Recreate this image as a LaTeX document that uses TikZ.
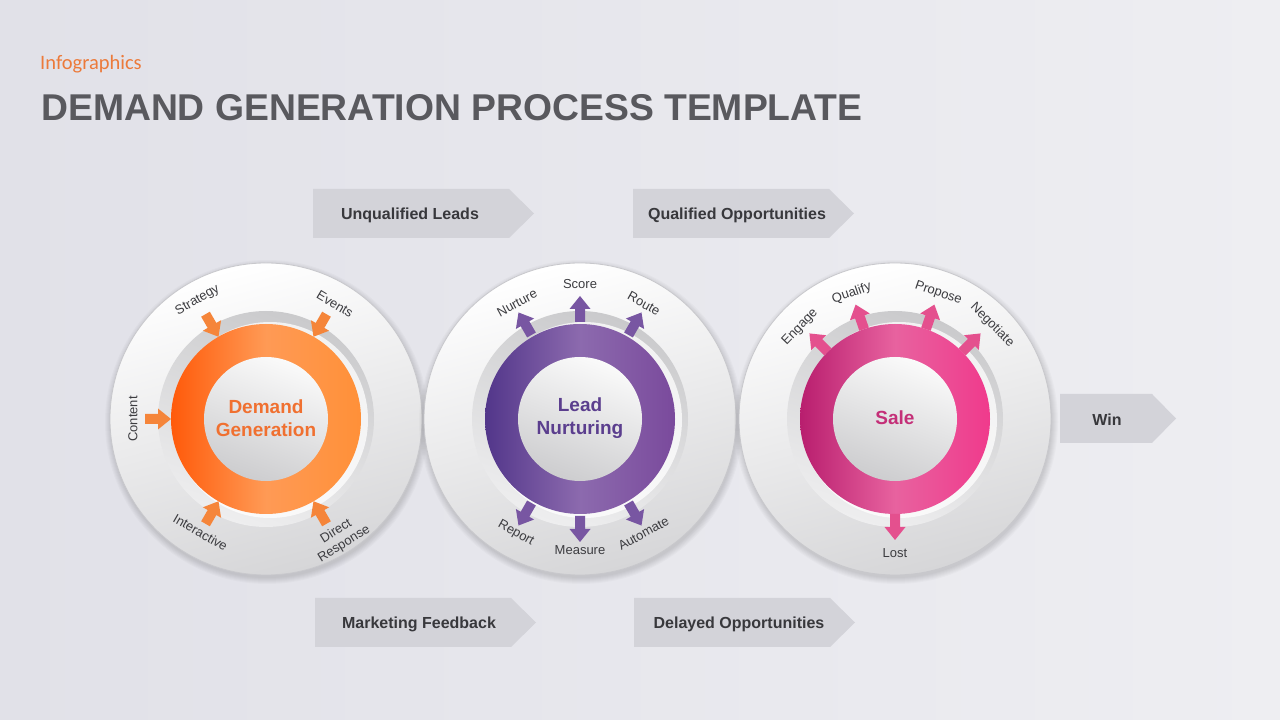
\documentclass[tikz,border=0pt]{standalone}
\usepackage{fontspec}
\setmainfont{Liberation Sans}
\newfontfamily\carlitofont{Carlito}
\usetikzlibrary{calc}
\definecolor{bgA}{HTML}{E1E1E8}
\definecolor{bgB}{HTML}{EEEEF2}
\definecolor{titlec}{HTML}{59595E}
\definecolor{infoc}{HTML}{EC7A3A}
\definecolor{txt}{HTML}{3C3C40}
\definecolor{bantxt}{HTML}{38383C}
\definecolor{banc}{HTML}{D3D3D9}
\definecolor{discB}{HTML}{D6D6D8}
\definecolor{discE}{HTML}{C8C8CC}
\definecolor{bandT}{HTML}{CACACC}
\definecolor{bandB}{HTML}{EEEEEF}
\definecolor{inT}{HTML}{FAFAFA}
\definecolor{inB}{HTML}{CDCDCF}
\definecolor{orL}{HTML}{FF5A0A}
\definecolor{orM}{HTML}{FF9A55}
\definecolor{orR}{HTML}{FF9038}
\definecolor{orA}{HTML}{F5853A}
\definecolor{orT}{HTML}{F07030}
\definecolor{puL}{HTML}{52368A}
\definecolor{puM}{HTML}{8C6AAE}
\definecolor{puR}{HTML}{7A4A9C}
\definecolor{puA}{HTML}{7856A2}
\definecolor{puT}{HTML}{5B3E8E}
\definecolor{piL}{HTML}{B81E6E}
\definecolor{piM}{HTML}{E8629F}
\definecolor{piR}{HTML}{F03A8C}
\definecolor{piA}{HTML}{E4508E}
\definecolor{piT}{HTML}{C42F78}
\begin{document}
\begin{tikzpicture}[x=1pt,y=1pt,
  lbl/.style={font=\fontsize{13}{15}\selectfont, text=txt, inner sep=0pt, align=center},
  ctext/.style={font=\fontsize{19}{23}\selectfont\bfseries, align=center, inner sep=0pt},
  bantext/.style={font=\fontsize{16}{18}\selectfont\bfseries, text=bantxt, inner sep=0pt},
  banfill/.style={fill=banc},
  barrow/.pic={\fill[pic actions] (-13,-5) -- (0,-5) -- (0,-10.5) -- (13,0) -- (0,10.5) -- (0,5) -- (-13,5) -- cycle;}
]
\useasboundingbox (0,0) rectangle (1280,720);
\shade[left color=bgA, right color=bgB] (0,0) rectangle (1280,720);

% title
\node[anchor=base west, inner sep=0pt, text=infoc, font=\carlitofont\fontsize{20.5}{22}\selectfont] (info) at (40,650) {Infographics};
\node[anchor=base west, inner sep=0pt, text=titlec, font=\fontsize{37.3}{40}\selectfont\bfseries] (title) at (41,599) {DEMAND GENERATION PROCESS TEMPLATE};

% centers
\coordinate (c1) at (266,301);
\coordinate (c2) at (580,301);
\coordinate (c3) at (895,301);

% discs
\foreach \c in {c1,c2,c3}{
  \foreach \k in {1,...,7} \fill[black, opacity=0.02] ($(\c)+(1,-3)$) circle (155+\k);
  \shade[top color=white, bottom color=discB, shading angle=15] (\c) circle (156);
  \draw[discE, line width=0.8] (\c) circle (156);
  \shade[top color=bandT, bottom color=bandB, shading angle=-20] (\c) circle (108);
  \fill[white, opacity=0.75] ($(\c)+(4,-1)$) circle (98);
}
\shade[left color=orL, right color=orR, middle color=orM] (c1) circle (95);
\shade[left color=puL, right color=puR, middle color=puM] (c2) circle (95);
\shade[left color=piL, right color=piR, middle color=piM] (c3) circle (95);
\foreach \c in {c1,c2,c3}{
  \shade[top color=inT, bottom color=inB, shading angle=-20] (\c) circle (62);
}

% center texts
\node[ctext, text=orT] (dg) at ($(c1)+(0,1)$) {Demand\\Generation};
\node[ctext, text=puT] (ln) at ($(c2)+(0,1)$) {Lead\\Nurturing};
\node[ctext, text=piT] (sale) at ($(c3)+(0,1)$) {Sale};

% circle 1: inward arrows
\foreach \a in {120,60,180,240,300}{
  \pic[rotate=\a+180, fill=orA] at ($(c1)+(\a:108)$) {barrow};
}
\node[lbl, rotate=30] (strategy) at ($(c1)+(120:137)$) {Strategy};
\node[lbl, rotate=-31] (events) at ($(c1)+(59:134)$) {Events};
\node[lbl, rotate=90] (content) at ($(c1)+(180:133)$) {Content};
\node[lbl, rotate=-30] (interactive) at ($(c1)+(240:131)$) {Interactive};
\node[lbl, rotate=32] (direct) at ($(c1)+(302:140)$) {Direct\\Response};

% circle 2: outward arrows
\foreach \a in {120,90,60,240,270,300}{
  \pic[rotate=\a, fill=puA] at ($(c2)+(\a:110)$) {barrow};
}
\node[lbl, rotate=28.5] (nurture) at ($(c2)+(118.5:132)$) {Nurture};
\node[lbl] (score) at ($(c2)+(90:135)$) {Score};
\node[lbl, rotate=-29] (route) at ($(c2)+(61:132)$) {Route};
\node[lbl, rotate=-29.3] (report) at ($(c2)+(240.7:131)$) {Report};
\node[lbl] (measure) at ($(c2)+(270:131)$) {Measure};
\node[lbl, rotate=29] (automate) at ($(c2)+(299:131)$) {Automate};

% circle 3: outward arrows
\foreach \a in {135,109,71,45,270}{
  \pic[rotate=\a, fill=piA] at ($(c3)+(\a:108)$) {barrow};
}
\node[lbl, rotate=46] (engage) at ($(c3)+(136:132)$) {Engage};
\node[lbl, rotate=19] (qualify) at ($(c3)+(109:133)$) {Qualify};
\node[lbl, rotate=-19] (propose) at ($(c3)+(71:133)$) {Propose};
\node[lbl, rotate=-45] (negotiate) at ($(c3)+(44:135)$) {Negotiate};
\node[lbl] (lost) at ($(c3)+(270:134)$) {Lost};

% banners
\fill[banfill] (313,482) -- (509,482) -- (534,506.5) -- (509,531) -- (313,531) -- cycle;
\node[bantext] (unq) at (410,504.5) {Unqualified Leads};
\fill[banfill] (633,482) -- (829,482) -- (854,506.5) -- (829,531) -- (633,531) -- cycle;
\node[bantext] (qop) at (737,504.5) {Qualified Opportunities};
\fill[banfill] (315,73) -- (511,73) -- (536,97.5) -- (511,122) -- (315,122) -- cycle;
\node[bantext] (mfb) at (419,95.5) {Marketing Feedback};
\fill[banfill] (634,73) -- (830,73) -- (855,97.5) -- (830,122) -- (634,122) -- cycle;
\node[bantext] (dop) at (739,95.5) {Delayed Opportunities};
\fill[banfill] (1060,277) -- (1152,277) -- (1176,301.5) -- (1152,326) -- (1060,326) -- cycle;
\node[bantext] (win) at (1107,300.5) {Win};
\end{tikzpicture}
\end{document}
